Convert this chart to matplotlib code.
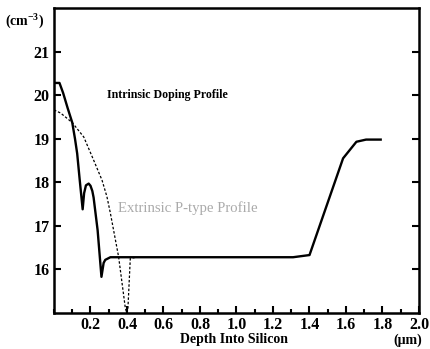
import matplotlib
matplotlib.use("Agg")
import matplotlib.pyplot as plt
from matplotlib.ticker import MultipleLocator, FixedLocator

plt.rcParams['font.family'] = ['Liberation Serif', 'DejaVu Serif']
plt.rcParams['font.weight'] = 'bold'
plt.rcParams['mathtext.fontset'] = 'custom'
plt.rcParams['mathtext.rm'] = 'Liberation Serif:bold'
plt.rcParams['mathtext.it'] = 'Liberation Serif:bold'
plt.rcParams['mathtext.bf'] = 'Liberation Serif:bold'

# intrinsic doping profile (solid)
intr_x = [0.0, 0.03, 0.05, 0.075, 0.1, 0.115, 0.127, 0.141, 0.157, 0.165,
          0.175, 0.19, 0.2, 0.21, 0.217, 0.239, 0.26, 0.272, 0.281, 0.309,
          1.31, 1.40, 1.584, 1.657, 1.71, 1.79]
intr_y = [20.28, 20.28, 20.05, 19.7, 19.37, 19.0, 18.66, 18.05, 17.38, 17.75,
          17.93, 17.97, 17.92, 17.8, 17.65, 16.9, 15.83, 16.15, 16.22, 16.28,
          16.28, 16.33, 18.55, 18.93, 18.98, 18.98]

# extrinsic p-type profile (dashed)
extr_x = [0.0, 0.036, 0.1, 0.163, 0.217, 0.263, 0.29, 0.309, 0.354, 0.39,
          0.398, 0.405, 0.418, 0.45]
extr_y = [19.66, 19.59, 19.37, 19.04, 18.51, 18.05, 17.67, 17.29, 16.29, 15.14,
          15.0, 15.1, 16.25, 16.28]

xticks = [0.2, 0.4, 0.6, 0.8, 1.0, 1.2, 1.4, 1.6, 1.8, 2.0]
yticks = [16, 17, 18, 19, 20, 21]

fig = plt.figure(figsize=(4.31, 3.49), dpi=100)
ax = fig.add_axes([54/431, 1-313/349, 365/431, 305/349])

ax.plot(extr_x, extr_y, color='black', lw=0.9, linestyle=(0, (2, 1.5)))
ax.plot(intr_x, intr_y, color='black', lw=1.7)

ax.set_xlim(0, 2.0)
ax.set_ylim(15, 22)
ax.xaxis.set_major_locator(FixedLocator(xticks))
ax.xaxis.set_minor_locator(MultipleLocator(0.1))
ax.yaxis.set_major_locator(FixedLocator(yticks))
ax.set_xticklabels([f'{v:.1f}' for v in xticks])
ax.set_yticklabels([str(v) for v in yticks])

for s in ax.spines.values():
    s.set_linewidth(1.8)
ax.tick_params(which='both', direction='in', top=False, right=True, width=1.5,
               labelsize=11.5)
ax.tick_params(which='major', length=5)
ax.tick_params(which='minor', length=3)
ax.tick_params(axis='x', pad=3)
ax.tick_params(axis='y', pad=3)
for lab in ax.get_xticklabels() + ax.get_yticklabels():
    lab.set_fontweight('bold')

ax.text(0.29, 20.0, 'Intrinsic Doping Profile', fontsize=8.6,
        fontweight='bold', va='center', ha='left')
ax.text(0.35, 17.4, 'Extrinsic P-type Profile', fontsize=10.6,
        fontweight='normal', color='#aaaaaa', va='center', ha='left')

fig.text(234/431, 1-340/349, 'Depth Into Silicon', fontsize=10,
         fontweight='bold', ha='center', va='center')
fig.text(408/431, 1-340/349, '(\u03bcm)', fontsize=10,
         fontweight='bold', ha='center', va='center')
fig.text(25/431, 1-22/349, '(cm$^{-3}$)', fontsize=10,
         fontweight='bold', ha='center', va='center')

fig.savefig('out.png', dpi=100)
